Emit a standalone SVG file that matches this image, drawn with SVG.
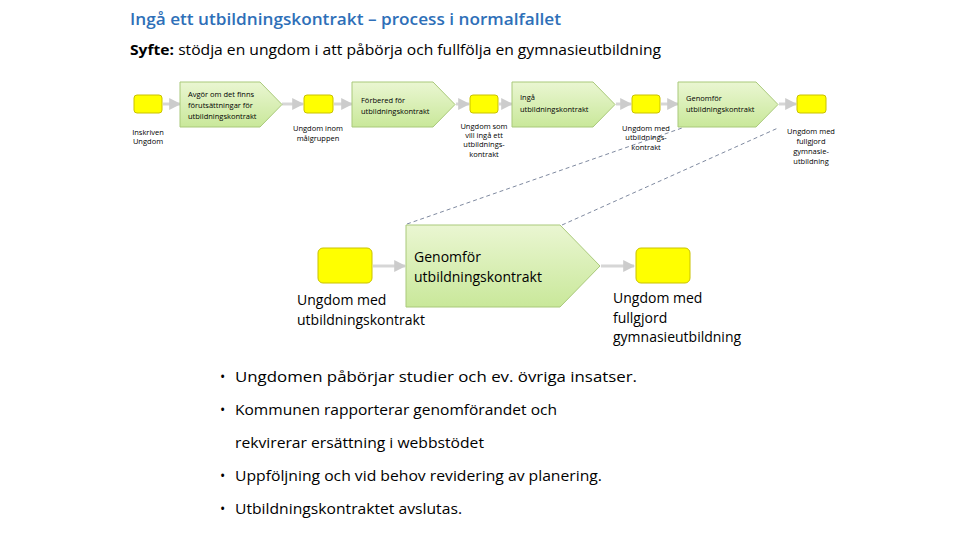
<svg xmlns="http://www.w3.org/2000/svg" width="960" height="540" viewBox="0 0 960 540">
<defs>
<linearGradient id="g" x1="0" y1="0" x2="0" y2="1"><stop offset="0" stop-color="#eaf6d2"/><stop offset="1" stop-color="#c9e89a"/></linearGradient>
<marker id="a" viewBox="0 0 10 10" refX="9" refY="5" markerWidth="4" markerHeight="4" orient="auto"><path d="M0,0L10,5L0,10z" fill="#cccccc"/></marker>
<style>
.y{fill:#ffff00;stroke:#c9c200;stroke-width:1}
.p{fill:url(#g);stroke:#a9c97a;stroke-width:1}
.c{stroke:#d6d6d6;stroke-width:3;fill:none;marker-end:url(#a)}
.d{stroke:#7f8aa0;stroke-width:1;stroke-dasharray:4,3;fill:none}
text{font-family:"Open Sans","Liberation Sans",Arial,sans-serif;fill:#000000}
.s{font-size:7.5px}
.m{font-size:14px}
.b{font-size:14px}
</style>
</defs>
<text x="130" y="25" font-size="16" font-weight="600" style="fill:#2e6fb8" textLength="431" lengthAdjust="spacingAndGlyphs">Ingå ett utbildningskontrakt – process i normalfallet</text>
<text x="130" y="55" font-size="15" textLength="531" lengthAdjust="spacingAndGlyphs"><tspan font-weight="bold">Syfte:</tspan> stödja en ungdom i att påbörja och fullfölja en gymnasieutbildning</text>
<g id="connectors">
<line class="c" x1="163" y1="104" x2="180" y2="104"/>
<line class="c" x1="282" y1="104" x2="303" y2="104"/>
<line class="c" x1="334" y1="104" x2="352" y2="104"/>
<line class="c" x1="456" y1="104" x2="469" y2="104"/>
<line class="c" x1="499" y1="104" x2="512" y2="104"/>
<line class="c" x1="616" y1="104" x2="631" y2="104"/>
<line class="c" x1="661" y1="104" x2="678" y2="104"/>
<line class="c" x1="779" y1="104" x2="796" y2="104"/>
<line class="c" x1="373" y1="266" x2="405" y2="266"/>
<line class="c" x1="601" y1="266" x2="634" y2="266"/>
<line class="d" x1="407" y1="224" x2="682" y2="128"/>
<line class="d" x1="562" y1="225" x2="778" y2="128"/>
</g>
<g id="n1"><rect class="y" x="134" y="95" width="28" height="18" rx="3"/><text class="s" x="148" y="135" text-anchor="middle">Inskriven</text><text class="s" x="148" y="144" text-anchor="middle">Ungdom</text></g>
<g id="p1"><path class="p" d="M180,82H260L282,104.5L260,127H180z"/><text class="s" x="188" y="97">Avgör om det finns</text><text class="s" x="188" y="108">förutsättningar för</text><text class="s" x="188" y="119">utbildningskontrakt</text></g>
<g id="n2"><rect class="y" x="304" y="95" width="29" height="18" rx="3"/><text class="s" x="318" y="131" text-anchor="middle">Ungdom inom</text><text class="s" x="318" y="141" text-anchor="middle">målgruppen</text></g>
<g id="p2"><path class="p" d="M352,82H433L455,104.5L433,127H352z"/><text class="s" x="361" y="103">Förbered för</text><text class="s" x="361" y="114">utbildningskontrakt</text></g>
<g id="n3"><rect class="y" x="470" y="95" width="28" height="18" rx="3"/><text class="s" x="484" y="129" text-anchor="middle">Ungdom som</text><text class="s" x="484" y="138" text-anchor="middle">vill ingå ett</text><text class="s" x="484" y="147" text-anchor="middle">utbildnings-</text><text class="s" x="484" y="157" text-anchor="middle">kontrakt</text></g>
<g id="p3"><path class="p" d="M512,82H593L615,104.5L593,127H512z"/><text class="s" x="520" y="100">Ingå</text><text class="s" x="520" y="112">utbildningskontrakt</text></g>
<g id="n4"><rect class="y" x="632" y="95" width="28" height="18" rx="3"/><text class="s" x="646" y="131" text-anchor="middle">Ungdom med</text><text class="s" x="646" y="140" text-anchor="middle">utbildnings-</text><text class="s" x="646" y="150" text-anchor="middle">kontrakt</text></g>
<g id="p4"><path class="p" d="M678,82H756L778,104.5L756,127H678z"/><text class="s" x="686" y="101">Genomför</text><text class="s" x="686" y="112">utbildningskontrakt</text></g>
<g id="n5"><rect class="y" x="797" y="95" width="29" height="18" rx="3"/><text class="s" x="811" y="134" text-anchor="middle">Ungdom med</text><text class="s" x="811" y="144" text-anchor="middle">fullgjord</text><text class="s" x="811" y="154" text-anchor="middle">gymnasie-</text><text class="s" x="811" y="164" text-anchor="middle">utbildning</text></g>
<g id="bn1"><rect class="y" x="318" y="248" width="54" height="35" rx="5"/><text class="m" x="297" y="305">Ungdom med</text><text class="m" x="297" y="325">utbildningskontrakt</text></g>
<g id="bp"><path class="p" d="M406,225H560L600,266L560,307H406z"/><text class="m" x="414" y="262">Genomför</text><text class="m" x="414" y="282">utbildningskontrakt</text></g>
<g id="bn2"><rect class="y" x="636" y="248" width="54" height="35" rx="5"/><text class="m" x="613" y="303">Ungdom med</text><text class="m" x="613" y="323">fullgjord</text><text class="m" x="613" y="342">gymnasieutbildning</text></g>
<g id="bullets">
<text class="b" x="220" y="382">•</text><text class="b" x="235" y="382" textLength="402" lengthAdjust="spacingAndGlyphs">Ungdomen påbörjar studier och ev. övriga insatser.</text>
<text class="b" x="220" y="415">•</text><text class="b" x="235" y="415" textLength="322" lengthAdjust="spacingAndGlyphs">Kommunen rapporterar genomförandet och</text>
<text class="b" x="235" y="448" textLength="249" lengthAdjust="spacingAndGlyphs">rekvirerar ersättning i webbstödet</text>
<text class="b" x="220" y="481">•</text><text class="b" x="235" y="481" textLength="367" lengthAdjust="spacingAndGlyphs">Uppföljning och vid behov revidering av planering.</text>
<text class="b" x="220" y="514">•</text><text class="b" x="235" y="514" textLength="227" lengthAdjust="spacingAndGlyphs">Utbildningskontraktet avslutas.</text>
</g>
</svg>
